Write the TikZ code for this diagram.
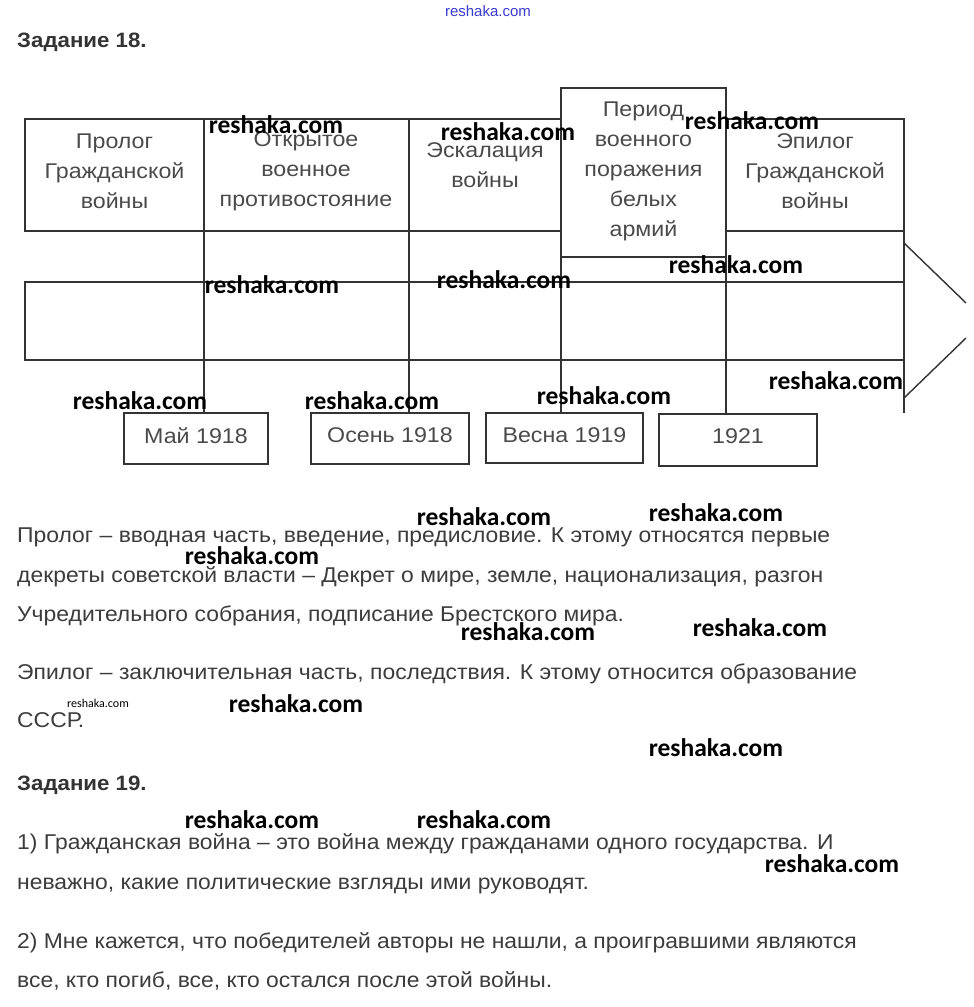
\documentclass[tikz,border=0pt]{standalone}
\usepackage{fontspec}
\setmainfont{Liberation Sans}
\newfontfamily\bodyfont{Liberation Sans}[FakeStretch=1.07]
\newfontfamily\lblfont{Liberation Sans}[FakeStretch=1.09]
\newfontfamily\wmfont{Carlito}
\definecolor{ln}{HTML}{333333}
\definecolor{tx}{HTML}{3C3C3C}
\definecolor{bx}{HTML}{4A4A4A}
\definecolor{wmblue}{HTML}{3A3AD0}
\begin{document}
\begin{tikzpicture}[x=1pt,y=-1pt,
  geom/.style={draw=none, fill=none, inner sep=0pt, outer sep=0pt, anchor=north west},
  frame/.style={draw=ln, line width=2pt, fill=white},
  box/.style={draw=ln, line width=2pt, fill=white, inner sep=0pt, outer sep=0pt, anchor=north west},
  band/.style={draw=ln, line width=1.4pt, inner sep=0pt, outer sep=0pt, anchor=north west},
  conn/.style={draw=ln, line width=1.4pt},
  lbl/.style={font=\lblfont\fontsize{21.3}{30}\selectfont, text=bx, align=center, inner sep=0pt},
  body/.style={font=\bodyfont\fontsize{21.4}{23}\selectfont, text=tx, anchor=base west, inner sep=0pt},
  head/.style={font=\bodyfont\bfseries\fontsize{20.8}{23}\selectfont, text=ln, anchor=base west, inner sep=0pt},
  wm/.style={font=\wmfont\bfseries\fontsize{25.5}{26}\selectfont, text=black, inner sep=0pt},
  wmsmall/.style={font=\wmfont\fontsize{12}{12}\selectfont, text=black, inner sep=0pt}]
\useasboundingbox (0,0) rectangle (974,1007);
\clip (0,0) rectangle (974,1007);
\fill[white] (0,0) rectangle (974,1007);

% band
\node[band, minimum width=879pt, minimum height=78pt] (bandbox) at (25,282) {};

% top box geometry
\node[geom, minimum width=179pt, minimum height=112pt] (b1) at (25,119) {};
\node[geom, minimum width=205pt, minimum height=112pt] (b2) at (204,119) {};
\node[geom, minimum width=152pt, minimum height=112pt] (b3) at (409,119) {};
\node[geom, minimum width=165pt, minimum height=169pt] (b4) at (561,88) {};
\node[geom, minimum width=178pt, minimum height=112pt] (b5) at (726,119) {};

% date boxes
\node[box, minimum width=144pt, minimum height=51pt] (d1) at (124,413) {};
\node[box, minimum width=158pt, minimum height=51pt] (d2) at (311,413) {};
\node[box, minimum width=157pt, minimum height=50pt] (d3) at (486,413) {};
\node[box, minimum width=158pt, minimum height=52pt] (d4) at (659,414) {};

% connectors
\coordinate (rend) at (904,413);
\coordinate (atop) at (904,243);
\coordinate (abot) at (904,398);
\coordinate (aup) at (966,303);
\coordinate (alo) at (966,338);
\draw[conn] (b1.south east) -- (b1.south east |- d1.north);
\draw[conn] (b2.south east) -- (b2.south east |- d2.north);
\draw[conn] (b4.south west) -- (b4.south west |- d3.north);
\draw[conn] (b5.south west) -- (b5.south west |- d4.north);
\draw[conn] (b5.south east) -- (rend);
\draw[conn] (atop) -- (aup);
\draw[conn] (abot) -- (alo);

% visible top boxes
\draw[frame] (b1.north west) rectangle (b1.south east);
\draw[frame] (b2.north west) rectangle (b2.south east);
\draw[frame] (b3.north west) rectangle (b3.south east);
\draw[frame] (b5.north west) rectangle (b5.south east);
\draw[frame] (b4.north west) rectangle (b4.south east);

% box labels
\node[lbl] (t1) at (114.5,171) {Пролог\\Гражданской\\войны};
\node[lbl] (t2) at (306,171) {Открытое\\военное\\противостояние};
\node[lbl] (t3) at (485,165) {Эскалация\\войны};
\node[lbl] (t4) at (643.5,171) {Период\\военного\\поражения\\белых\\армий};
\node[lbl] (t5) at (815,171) {Эпилог\\Гражданской\\войны};

\node[lbl] (l1) at ([yshift=3pt]d1.center) {Май 1918};
\node[lbl] (l2) at ([yshift=3pt]d2.center) {Осень 1918};
\node[lbl] (l3) at ([yshift=3pt]d3.center) {Весна 1919};
\node[lbl] (l4) at ([yshift=4pt]d4.center) {1921};

% text
\node[head] (h18) at (17,47) {Задание 18.};
\node[body] (p1) at (17,542) {Пролог – вводная часть, введение, предисловие. К этому относятся первые};
\node[body] (p2) at (17,582) {декреты советской власти – Декрет о мире, земле, национализация, разгон};
\node[body] (p3) at (17,621) {Учредительного собрания, подписание Брестского мира.};
\node[body] (p4) at (17,679) {Эпилог – заключительная часть, последствия. К этому относится образование};
\node[body] (p5) at (17,727) {СССР.};
\node[head] (h19) at (17,790) {Задание 19.};
\node[body] (q1) at (17,849) {1) Гражданская война – это война между гражданами одного государства. И};
\node[body] (q2) at (17,889) {неважно, какие политические взгляды ими руководят.};
\node[body] (q3) at (17,948) {2) Мне кажется, что победителей авторы не нашли, а проигравшими являются};
\node[body] (q4) at (17,987) {все, кто погиб, все, кто остался после этой войны.};

% watermarks
\node[font=\fontsize{15}{15}\selectfont, text=wmblue, inner sep=0pt] (w0) at (488,11) {reshaka.com};
\node[wm] (w1) at (276,125) {reshaka.com};
\node[wm] (w2) at (508,132) {reshaka.com};
\node[wm] (w3) at (752,121) {reshaka.com};
\node[wm] (w4) at (272,285) {reshaka.com};
\node[wm] (w5) at (504,280) {reshaka.com};
\node[wm] (w6) at (736,265) {reshaka.com};
\node[wm] (w7) at (836,381) {reshaka.com};
\node[wm] (w8) at (140,401) {reshaka.com};
\node[wm] (w9) at (372,401) {reshaka.com};
\node[wm] (w10) at (604,396) {reshaka.com};
\node[wm] (w11) at (484,517) {reshaka.com};
\node[wm] (w12) at (716,513) {reshaka.com};
\node[wm] (w13) at (252,556) {reshaka.com};
\node[wm] (w14) at (528,632) {reshaka.com};
\node[wm] (w15) at (760,628) {reshaka.com};
\node[wmsmall] (w16) at (98,703) {reshaka.com};
\node[wm] (w17) at (296,704) {reshaka.com};
\node[wm] (w18) at (716,748) {reshaka.com};
\node[wm] (w19) at (252,820) {reshaka.com};
\node[wm] (w20) at (484,820) {reshaka.com};
\node[wm] (w21) at (832,864) {reshaka.com};
\end{tikzpicture}
\end{document}
